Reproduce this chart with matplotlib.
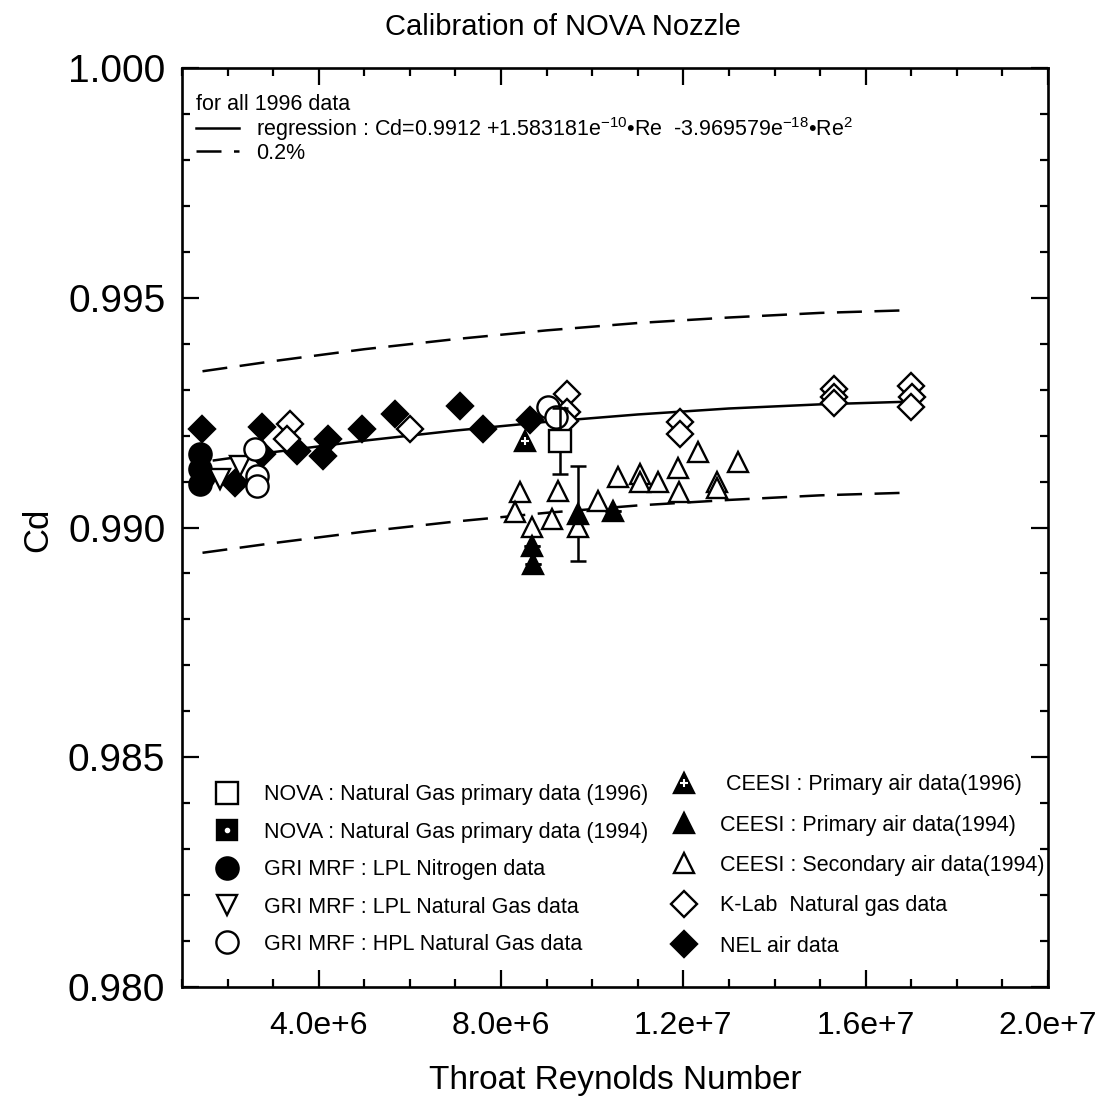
import numpy as np
import matplotlib
matplotlib.use('Agg')
import matplotlib.pyplot as plt
from matplotlib.ticker import MultipleLocator, FixedLocator, FixedFormatter

plt.rcParams['font.family'] = ['Liberation Sans', 'DejaVu Sans']
plt.rcParams['mathtext.fontset'] = 'custom'
plt.rcParams['mathtext.rm'] = 'Liberation Sans'
plt.rcParams['mathtext.it'] = 'Liberation Sans'

# Reynolds numbers are in units of 1e6 in these lists
# regression curve and the +/-0.2% band
reg_re = [1.7, 3, 5, 7, 9, 11, 13, 15, 17]
reg_cd = [0.99146, 0.99164, 0.99189, 0.99211, 0.99230, 0.99246, 0.99259, 0.99268, 0.99274]
band_re = [1.45, 3, 5, 7, 9, 11, 13, 15, 17]
upper_cd = [0.99340, 0.99362, 0.99388, 0.99410, 0.99429, 0.99445, 0.99457, 0.99467, 0.99473]
lower_cd = [0.98945, 0.98966, 0.98991, 0.99013, 0.99032, 0.99048, 0.99060, 0.99070, 0.99076]

# data sets
nova96_re = [9.29]
nova96_cd = [0.99189]
nova96_err = [0.00072]

nova94_re = []
nova94_cd = []

lpl_n2_re = [1.40, 1.40, 1.40, 1.45]
lpl_n2_cd = [0.99160, 0.99128, 0.99095, 0.99110]

lpl_ng_re = [1.83, 2.27]
lpl_ng_cd = [0.99106, 0.99134]

hpl_ng_re = [2.60, 2.65, 2.65, 9.03, 9.20]
hpl_ng_cd = [0.99171, 0.99113, 0.99091, 0.99263, 0.99241]

ceesi96_re = [8.53]
ceesi96_cd = [0.99189]

ceesi94_re = [8.68, 8.70, 9.69, 10.46]
ceesi94_cd = [0.98960, 0.98920, 0.99030, 0.99036]
ceesi94_err = [0, 0, 0.00103, 0]

ceesi_sec_re = [8.42, 8.30, 8.68, 9.12, 9.25, 9.69, 10.13, 10.57, 11.05, 11.05,
                11.44, 11.88, 12.32, 11.90, 12.74, 12.74, 13.20]
ceesi_sec_cd = [0.99077, 0.99034, 0.99001, 0.99019, 0.99080, 0.99001, 0.99058, 0.99110, 0.99117, 0.99099,
                0.99099, 0.99130, 0.99165, 0.99077, 0.99100, 0.99087, 0.99143]

klab_re = [3.37, 3.30, 6.00, 9.45, 9.45, 9.40, 11.93, 11.93, 15.30, 15.30, 15.30, 17.00, 17.02, 17.00]
klab_cd = [0.99226, 0.99193, 0.99215, 0.99291, 0.99252, 0.99232, 0.99230, 0.99204,
           0.99302, 0.99285, 0.99272, 0.99309, 0.99285, 0.99263]

nel_re = [1.44, 2.16, 2.75, 2.75, 3.52, 4.09, 4.20, 4.95, 5.67, 7.10, 7.60, 8.63]
nel_cd = [0.99215, 0.99097, 0.99219, 0.99160, 0.99167, 0.99156, 0.99193, 0.99215, 0.99248, 0.99265,
          0.99215, 0.99234]

xtick_vals = [4e6, 8e6, 1.2e7, 1.6e7, 2.0e7]
xtick_labels = ['4.0e+6', '8.0e+6', '1.2e+7', '1.6e+7', '2.0e+7']
ytick_vals = [0.980, 0.985, 0.990, 0.995, 1.000]
ytick_labels = ['0.980', '0.985', '0.990', '0.995', '1.000']


def e6(v):
    return np.array(v, dtype=float) * 1e6


fig = plt.figure(figsize=(11.07, 11.0), dpi=100)
ax = fig.add_axes([0.1644, 0.1027, 0.7823, 0.8355])

lw = 1.8
mew = 1.7

# lines
reg_line, = ax.plot(e6(reg_re), reg_cd, color='black', lw=lw, zorder=2)
band_line, = ax.plot(e6(band_re), upper_cd, color='black', lw=lw, dashes=(10, 5), zorder=2)
ax.plot(e6(band_re), lower_cd, color='black', lw=lw, dashes=(10, 5), zorder=2)

# markers
h_nel, = ax.plot(e6(nel_re), nel_cd, 'D', ms=13, mfc='black', mec='black', mew=mew, ls='none', zorder=3)
h_klab, = ax.plot(e6(klab_re), klab_cd, 'D', ms=13, mfc='white', mec='black', mew=mew, ls='none', zorder=4)
h_n2, = ax.plot(e6(lpl_n2_re), lpl_n2_cd, 'o', ms=16, mfc='black', mec='black', mew=mew, ls='none', zorder=3)
h_lplng, = ax.plot(e6(lpl_ng_re), lpl_ng_cd, 'v', ms=15, mfc='white', mec='black', mew=mew, ls='none', zorder=4)
h_hpl, = ax.plot(e6(hpl_ng_re), hpl_ng_cd, 'o', ms=16, mfc='white', mec='black', mew=mew, ls='none', zorder=4)
h_sec, = ax.plot(e6(ceesi_sec_re), ceesi_sec_cd, '^', ms=15, mfc='white', mec='black', mew=mew, ls='none', zorder=4)

ax.errorbar(e6(ceesi94_re), ceesi94_cd, yerr=ceesi94_err, fmt='none', ecolor='black',
            elinewidth=lw, capsize=6, capthick=lw, zorder=3)
h_c94, = ax.plot(e6(ceesi94_re), ceesi94_cd, '^', ms=15, mfc='black', mec='black', mew=mew, ls='none', zorder=5)

h_c96a, = ax.plot(e6(ceesi96_re), ceesi96_cd, '^', ms=15, mfc='black', mec='black', mew=mew, ls='none', zorder=5)
h_c96b, = ax.plot(e6(ceesi96_re), ceesi96_cd, '+', ms=6, mec='white', mew=1.5, ls='none', zorder=6)

ax.errorbar(e6(nova96_re), nova96_cd, yerr=nova96_err, fmt='none', ecolor='black',
            elinewidth=lw, capsize=6, capthick=lw, zorder=5)
h_nova96, = ax.plot(e6(nova96_re), nova96_cd, 's', ms=16, mfc='white', mec='black', mew=mew, ls='none', zorder=6)

h_n94a, = ax.plot(e6(nova94_re), nova94_cd, 's', ms=15, mfc='black', mec='black', mew=mew, ls='none')
h_n94b, = ax.plot(e6(nova94_re), nova94_cd, 'o', ms=3, mfc='white', mec='white', ls='none')

# axes
ax.set_xlim(1e6, 2e7)
ax.set_ylim(0.980, 1.000)
ax.xaxis.set_major_locator(FixedLocator(xtick_vals))
ax.xaxis.set_major_formatter(FixedFormatter(xtick_labels))
ax.xaxis.set_minor_locator(MultipleLocator(1e6))
ax.yaxis.set_major_locator(FixedLocator(ytick_vals))
ax.yaxis.set_major_formatter(FixedFormatter(ytick_labels))
ax.yaxis.set_minor_locator(MultipleLocator(0.001))
ax.tick_params(which='both', direction='in', top=True, right=True, width=1.6, color='black')
ax.tick_params(which='major', length=12)
ax.tick_params(which='minor', length=6)
ax.tick_params(axis='x', which='major', labelsize=23, pad=17)
ax.tick_params(axis='y', which='major', labelsize=28, pad=12)
for s in ax.spines.values():
    s.set_linewidth(1.9)

ax.set_xlabel('Throat Reynolds Number', fontsize=24)
ax.xaxis.set_label_coords(0.5, -0.085)
ax.set_ylabel('Cd', fontsize=25)
ax.yaxis.set_label_coords(-0.147, 0.498)
fig.text(563 / 1107, 1 - 27 / 1100, 'Calibration of NOVA Nozzle', fontsize=21, ha='center', va='center')

# legends
leg_top = ax.legend([reg_line, band_line],
                    [r'regression : Cd=0.9912 +1.583181e$^{-10}$•Re  -3.969579e$^{-18}$•Re$^2$', '0.2%'],
                    title='for all 1996 data', title_fontsize=15.5, fontsize=15.5, alignment='left',
                    loc='upper left', bbox_to_anchor=(0.016, 0.972), frameon=False,
                    borderpad=0, borderaxespad=0, handlelength=2.0, handletextpad=0.8, labelspacing=0.0)
ax.add_artist(leg_top)

leg_left = ax.legend([h_nova96, (h_n94a, h_n94b), h_n2, h_lplng, h_hpl],
                     ['NOVA : Natural Gas primary data (1996)', 'NOVA : Natural Gas primary data (1994)',
                      'GRI MRF : LPL Nitrogen data', 'GRI MRF : LPL Natural Gas data',
                      'GRI MRF : HPL Natural Gas data'],
                     fontsize=15.5, loc='lower left', bbox_to_anchor=(0.04, 0.035), frameon=False,
                     borderpad=0, borderaxespad=0, handlelength=1.0, handletextpad=1.2, labelspacing=0.76)
ax.add_artist(leg_left)

ax.legend([(h_c96a, h_c96b), h_c94, h_sec, h_klab, h_nel],
          [' CEESI : Primary air data(1996)', 'CEESI : Primary air data(1994)',
           'CEESI : Secondary air data(1994)', 'K-Lab  Natural gas data', 'NEL air data'],
          fontsize=15.5, loc='lower left', bbox_to_anchor=(0.567, 0.033), frameon=False,
          borderpad=0, borderaxespad=0, handlelength=1.0, handletextpad=1.2, labelspacing=0.9)

fig.savefig('out.png', dpi=100)
